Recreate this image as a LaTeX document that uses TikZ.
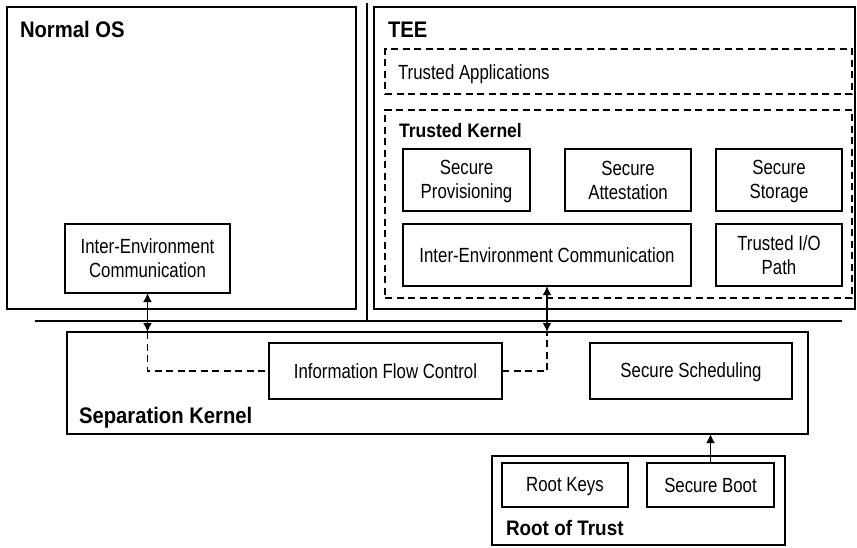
\documentclass[tikz,border=0pt]{standalone}
\usepackage{fontspec}
\setmainfont{Liberation Sans}[FakeStretch=0.82]
\newfontfamily\hdfont{Liberation Sans}[FakeStretch=0.9]
\usetikzlibrary{arrows.meta}
% strut that centres capitals vertically in a box
\newcommand\cs{\rule[-2.3pt]{0pt}{19.3pt}}
\begin{document}
\begin{tikzpicture}[x=1pt,y=-1pt,
  every node/.style={inner sep=0pt, outer sep=0pt},
  box/.style={draw, line width=1.8pt, rectangle, align=center,
    font=\fontsize{20.5}{24}\selectfont},
  dbox/.style={draw, line width=1.8pt, dash pattern=on 7pt off 4.5pt, rectangle},
  title/.style={anchor=base west, font=\hdfont\bfseries\fontsize{22.5}{26}\selectfont},
  subtitle/.style={anchor=base west, font=\hdfont\bfseries\fontsize{19.5}{23}\selectfont},
  plain/.style={anchor=base west, font=\fontsize{20.5}{24}\selectfont},
  flow/.style={line width=1.8pt, dash pattern=on 7pt off 4.5pt},
  link/.style={line width=1.8pt, {Latex[length=9pt,width=9pt]}-{Latex[length=9pt,width=9pt]}},
  uplink/.style={line width=1.8pt, -{Latex[length=9pt,width=9pt]}}]
\useasboundingbox (0,0) rectangle (857,547);

% environments
\node[box, minimum width=349pt, minimum height=302pt] (nos) at (181.5,158) {};
\node[title] (nostitle) at (20,37) {Normal OS};
\node[box, minimum width=481pt, minimum height=302pt] (tee) at (614.5,158) {};
\node[title] (teetitle) at (388,37) {TEE};

% divider lines
\coordinate (vtop) at (367,3);
\coordinate (vbot) at (367,321);
\draw[line width=1.8pt] (vtop) -- (vbot);
\coordinate (hl) at (35,321);
\coordinate (hr) at (842,321);
\draw[line width=2pt] (hl) -- (hr);

% TEE contents
\node[dbox, minimum width=467pt, minimum height=45pt] (ta) at (618.5,71.5) {};
\node[plain] (tatext) at (398,79) {Trusted Applications};
\node[dbox, minimum width=467pt, minimum height=188pt] (tk) at (618.5,204) {};
\node[subtitle] (tktitle) at (399,137) {Trusted Kernel};
\node[box, minimum width=127pt, minimum height=62pt] (sp) at (466.5,180) {Secure\cs\\Provisioning\cs};
\node[box, minimum width=126pt, minimum height=62pt] (sa) at (628,180) {Secure\cs\\Attestation\cs};
\node[box, minimum width=126pt, minimum height=62pt] (ss) at (779,180) {Secure\cs\\Storage\cs};
\node[box, minimum width=288pt, minimum height=62pt] (tiec) at (547,255) {Inter-Environment Communication\cs};
\node[box, minimum width=126pt, minimum height=62pt] (tio) at (779,255) {Trusted I/O\cs\\Path\cs};

% Normal OS contents
\node[box, minimum width=165pt, minimum height=69pt] (niec) at (147.5,258.5) {Inter-Environment\cs\\Communication\cs};

% separation kernel
\node[box, minimum width=741pt, minimum height=102pt] (sk) at (437.5,383) {};
\node[title] (sktitle) at (79,423) {Separation Kernel};
\node[box, minimum width=233pt, minimum height=56pt] (ifc) at (385.5,371) {Information Flow Control\cs};
\node[box, minimum width=202pt, minimum height=56pt] (ssch) at (691,371) {Secure Scheduling\cs};

% root of trust
\node[box, minimum width=293pt, minimum height=89pt] (rot) at (638.5,500.5) {};
\node[title, font=\hdfont\bfseries\fontsize{21}{25}\selectfont] (rottitle) at (506,535) {Root of Trust};
\node[box, minimum width=126pt, minimum height=44pt] (rk) at (565,485) {Root Keys\cs};
\node[box, minimum width=127pt, minimum height=44pt] (sb) at (710.5,485) {Secure Boot\cs};

% communication paths
\coordinate (la) at (niec.south |- sk.north);
\coordinate (ra) at (tiec.south |- sk.north);
\draw[link] (niec.south) -- (la);
\draw[link] (tiec.south) -- (ra);
\draw[flow] (la) |- (ifc.west);
\draw[flow] (ifc.east) -| (ra);
\coordinate (ba) at (sb.north |- sk.south);
\draw[uplink] (sb.north) -- (ba);
\end{tikzpicture}
\end{document}
